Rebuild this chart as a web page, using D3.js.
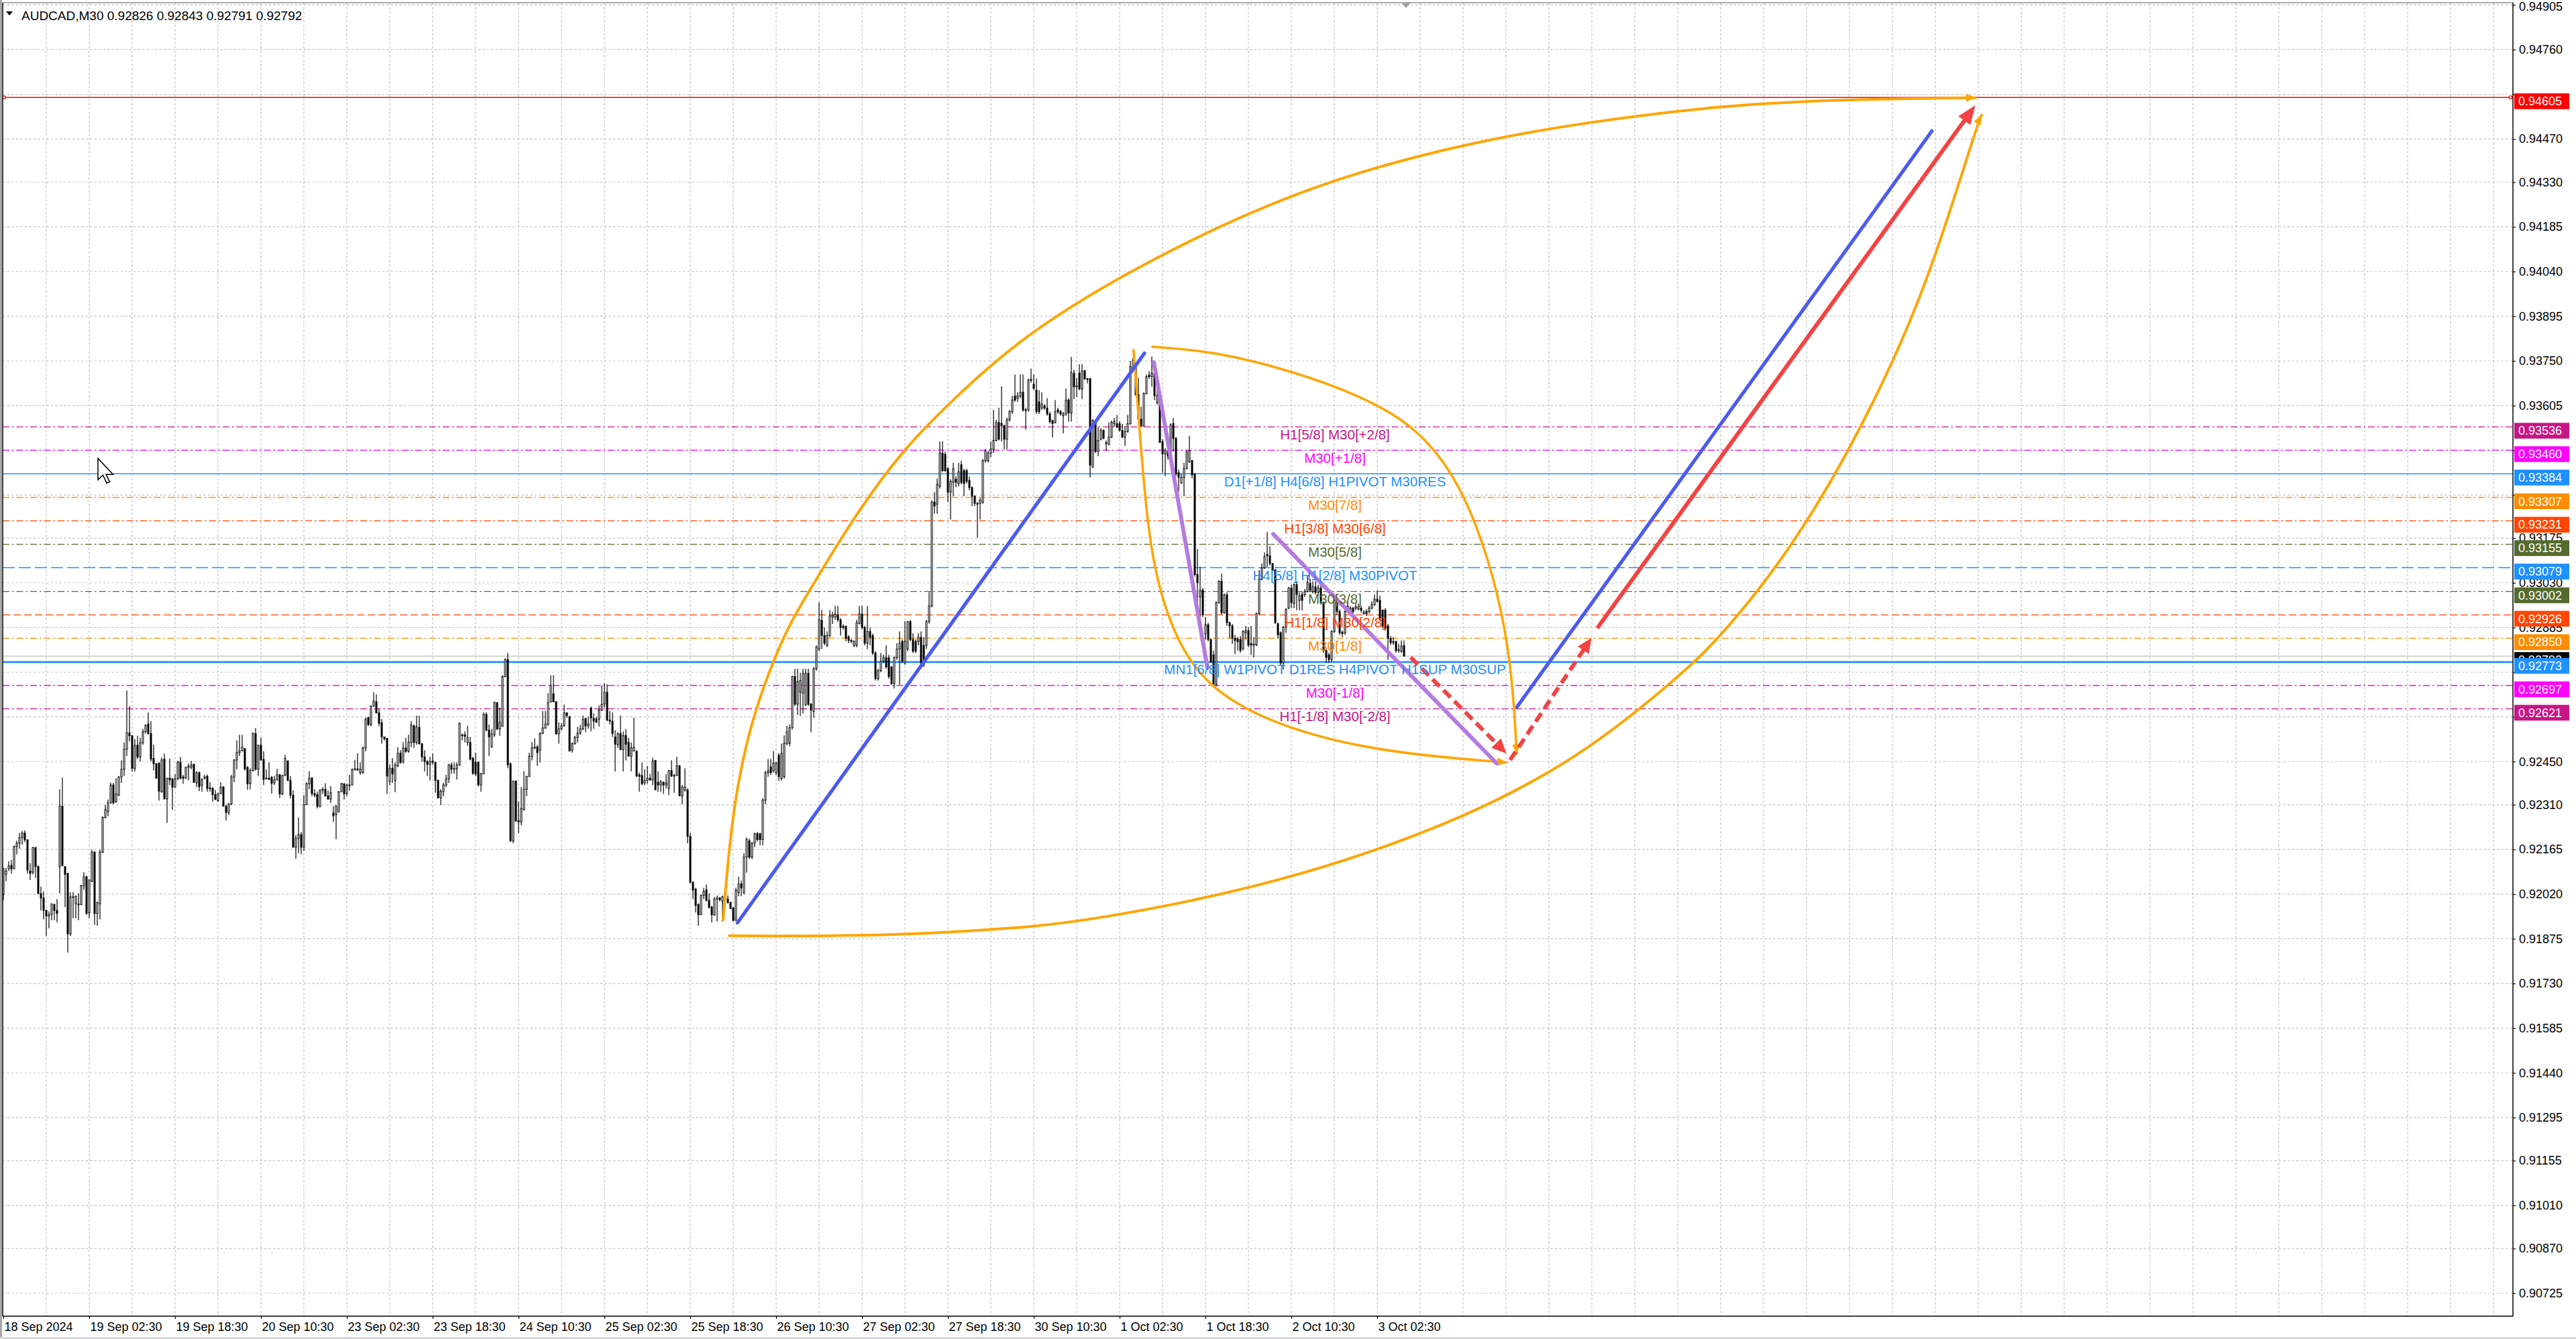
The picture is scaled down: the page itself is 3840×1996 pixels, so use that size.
<!DOCTYPE html>
<html lang="en">
<head>
<meta charset="UTF-8">
<title>AUDCAD,M30</title>
<script src="https://cdnjs.cloudflare.com/ajax/libs/d3/7.8.5/d3.min.js"></script>
<style>
body { margin: 0; background: #fff; }
svg { display: block; }
text { font-family: "Liberation Sans", Arial, sans-serif; }
</style>
</head>
<body>
<svg id="chart"></svg>
<script>
// prices are stored as points above 0.9 (1 point = 0.00001)
var BASE = 0.9, PT = 0.00001;

var opens = [
2018,2084,2102,2113,2102,2174,2185,2203,2218,2196,
2095,2091,2171,2109,2022,2007,1967,1949,1954,1986,
1967,2109,2305,2109,2087,1891,2011,1989,1988,1986,
2047,2076,1959,2062,2156,1957,1989,2156,2269,2287,
2316,2374,2320,2341,2400,2425,2490,2543,2534,2428,
2503,2465,2511,2547,2572,2541,2460,2443,2445,2352,
2458,2329,2396,2394,2367,2394,2448,2400,2396,2431,
2432,2441,2381,2414,2373,2396,2402,2365,2363,2343,
2323,2346,2368,2305,2285,2312,2400,2455,2479,2485,
2492,2431,2379,2421,2541,2425,2503,2457,2394,2396,
2399,2381,2390,2407,2345,2405,2452,2389,2341,2172,
2200,2213,2172,2310,2378,2396,2346,2343,2305,2357,
2360,2339,2328,2283,2278,2287,2352,2378,2346,2374,
2374,2423,2426,2414,2414,2494,2593,2570,2630,2644,
2608,2576,2530,2525,2385,2428,2389,2436,2477,2450,
2494,2484,2512,2566,2512,2561,2508,2465,2450,2441,
2452,2447,2389,2332,2352,2374,2394,2439,2425,2427,
2439,2537,2537,2512,2512,2461,2448,2448,2374,2410,
2603,2552,2499,2537,2641,2556,2564,2726,2781,2443,
2193,2387,2258,2254,2294,2360,2402,2467,2494,2497,
2487,2541,2559,2570,2644,2670,2644,2540,2556,2566,
2608,2595,2487,2508,2528,2542,2556,2590,2566,2624,
2590,2588,2588,2617,2637,2675,2585,2581,2530,2505,
2541,2489,2535,2512,2467,2484,2483,2407,2405,2381,
2389,2396,2390,2454,2383,2374,2383,2374,2363,2421,
2403,2405,2436,2338,2358,2358,2207,2058,2036,1986,
1953,2016,2034,2000,1978,1952,2004,2007,1997,2011,
2004,1993,1975,1935,2025,2053,2025,2140,2193,2140,
2185,2216,2216,2197,2325,2414,2433,2420,2414,2471,
2395,2401,2509,2509,2560,2726,2636,2675,2672,2634,
2736,2636,2613,2751,2815,2908,2859,2827,2859,2919,
2919,2927,2910,2889,2889,2855,2843,2827,2827,2898,
2929,2885,2834,2872,2859,2802,2719,2745,2776,2787,
2787,2757,2703,2787,2815,2840,2770,2815,2904,2846,
2840,2840,2853,2827,2827,2904,2955,3292,3285,3343,
3451,3447,3400,3324,3356,3366,3352,3413,3394,3394,
3362,3339,3311,3288,3288,3292,3426,3426,3451,3464,
3492,3550,3547,3540,3496,3559,3585,3636,3629,3636,
3648,3589,3591,3687,3674,3655,3617,3597,3604,3597,
3578,3556,3550,3591,3585,3572,3578,3623,3581,3710,
3666,3710,3659,3718,3692,3692,3405,3550,3456,3496,
3525,3481,3478,3503,3546,3546,3546,3525,3503,3521,
3546,3729,3729,3641,3561,3539,3644,3704,3699,3710,
3615,3641,3488,3448,3459,3456,3547,3499,3387,3354,
3372,3401,3423,3427,3383,3057,2984,3006,2864,2894,
2846,2796,2701,2966,3035,2933,2991,2901,2890,2850,
2848,2846,2817,2868,2875,2833,2828,2828,2930,3042,
3078,3122,3118,3092,3071,2897,2868,2770,2886,2948,
3013,2963,3024,2973,2992,2992,3002,3028,3002,3017,
2999,3013,2966,2810,2796,2781,2872,2966,2937,2870,
2868,2941,2937,2948,2948,2945,2948,2930,2937,2937,
2948,2959,2977,2973,2941,2941,2890,2850,2836,2839,
2810,2807,2826
];

var highs = [
2105,2105,2127,2131,2178,2193,2218,2225,2227,2198,
2120,2173,2173,2113,2044,2029,1969,1964,1990,1989,
2004,2360,2398,2111,2089,2026,2026,2015,2022,2050,
2091,2080,2068,2164,2160,1995,2164,2272,2309,2327,
2381,2381,2396,2403,2454,2512,2680,2630,2536,2523,
2534,2527,2556,2570,2609,2581,2505,2445,2447,2463,
2476,2396,2460,2396,2410,2452,2465,2407,2434,2444,
2452,2443,2419,2418,2396,2407,2408,2383,2367,2358,
2349,2383,2370,2309,2316,2407,2458,2519,2537,2537,
2494,2436,2428,2545,2559,2505,2527,2483,2425,2447,
2403,2403,2426,2410,2407,2471,2454,2403,2356,2211,
2269,2222,2341,2383,2419,2400,2360,2352,2360,2367,
2380,2356,2370,2305,2309,2354,2381,2380,2378,2407,
2428,2456,2477,2447,2499,2592,2595,2632,2675,2668,
2621,2588,2530,2527,2441,2461,2447,2497,2487,2513,
2527,2537,2581,2570,2599,2599,2510,2487,2455,2465,
2476,2449,2392,2360,2381,2407,2443,2447,2447,2447,
2577,2541,2548,2566,2530,2465,2479,2450,2414,2610,
2610,2570,2556,2644,2643,2625,2730,2784,2802,2447,
2389,2389,2320,2367,2419,2403,2479,2513,2525,2504,
2545,2614,2614,2672,2730,2730,2646,2577,2574,2635,
2610,2599,2512,2534,2563,2569,2599,2592,2595,2628,
2606,2595,2632,2697,2704,2701,2614,2610,2552,2545,
2599,2548,2556,2527,2512,2592,2487,2414,2447,2425,
2436,2410,2463,2455,2418,2390,2385,2409,2423,2454,
2410,2465,2439,2374,2428,2363,2218,2062,2040,1990,
2018,2040,2051,2022,1982,2011,2015,2011,2015,2015,
2015,1995,1978,2040,2076,2064,2153,2204,2200,2190,
2219,2222,2219,2331,2420,2458,2458,2484,2450,2477,
2509,2535,2566,2570,2728,2751,2751,2738,2751,2751,
2751,2640,2757,2827,2967,2942,2885,2872,2942,2936,
2955,2955,2915,2895,2891,2860,2848,2843,2910,2955,
2955,2891,2955,2885,2865,2808,2751,2802,2796,2827,
2796,2760,2790,2834,2872,2846,2906,2906,2910,2866,
2846,2866,2872,2853,2910,3000,3298,3324,3368,3489,
3489,3455,3405,3366,3419,3375,3419,3426,3400,3400,
3375,3343,3314,3292,3305,3432,3465,3458,3489,3591,
3559,3598,3667,3543,3566,3591,3636,3706,3648,3706,
3706,3598,3693,3725,3706,3693,3655,3648,3610,3629,
3585,3559,3623,3598,3591,3585,3661,3629,3763,3721,
3695,3739,3739,3721,3695,3695,3561,3557,3536,3532,
3528,3492,3550,3557,3565,3575,3554,3546,3539,3575,
3750,3760,3736,3695,3601,3648,3706,3717,3764,3742,
3659,3644,3496,3467,3470,3547,3565,3503,3398,3383,
3419,3459,3507,3427,3387,3140,3082,3013,2919,2900,
2850,2810,2970,3038,3060,2995,2999,2904,2897,2861,
2854,2857,2876,2890,2886,2890,2854,2933,3071,3093,
3129,3195,3148,3095,3075,2901,2872,2890,2948,3017,
3024,3028,3035,2999,3002,3010,3053,3042,3035,3035,
3024,3028,2970,2818,2803,2876,2977,2984,2944,2875,
2941,2970,2955,2952,2966,2963,2955,2941,2944,2955,
2970,2992,3006,2988,2944,2948,2897,2857,2854,2843,
2832,2843,2843
];

var lows = [
2000,2062,2095,2087,2100,2149,2167,2180,2189,2087,
2066,2084,2073,2020,1967,1938,1884,1909,1935,1935,
1928,2022,2110,1978,1830,1884,1942,1942,1935,1984,
2033,1953,1942,2058,1920,1917,1938,2153,2265,2272,
2314,2312,2316,2338,2381,2403,2468,2516,2418,2418,
2458,2450,2505,2541,2537,2450,2421,2396,2323,2349,
2327,2251,2374,2294,2367,2389,2392,2378,2394,2389,
2425,2381,2367,2354,2352,2392,2352,2352,2320,2325,
2320,2345,2305,2259,2276,2309,2383,2425,2468,2483,
2421,2358,2360,2418,2421,2403,2454,2374,2392,2390,
2346,2374,2389,2332,2341,2403,2387,2330,2171,2135,
2153,2149,2160,2309,2360,2338,2334,2298,2301,2345,
2338,2327,2316,2254,2198,2285,2352,2327,2338,2356,
2374,2421,2419,2407,2410,2483,2566,2564,2628,2606,
2564,2508,2519,2345,2374,2381,2351,2432,2443,2443,
2479,2479,2497,2494,2505,2505,2450,2418,2403,2389,
2439,2349,2330,2309,2338,2367,2381,2410,2410,2392,
2436,2519,2512,2501,2454,2407,2403,2370,2352,2410,
2548,2468,2494,2530,2552,2534,2564,2723,2428,2189,
2185,2254,2218,2243,2291,2338,2400,2454,2490,2436,
2447,2539,2556,2567,2641,2643,2537,2508,2552,2563,
2592,2483,2479,2505,2512,2537,2552,2545,2556,2548,
2556,2577,2563,2614,2625,2581,2570,2530,2418,2494,
2487,2418,2454,2465,2418,2484,2400,2352,2374,2374,
2378,2389,2374,2357,2352,2352,2345,2363,2341,2400,
2349,2403,2338,2312,2352,2185,2055,2004,1960,1917,
1952,2004,1996,1975,1928,1950,1931,1996,1931,1996,
1989,1971,1931,1933,2013,2013,2019,2089,2134,2134,
2172,2190,2178,2178,2312,2401,2407,2414,2407,2388,
2388,2395,2503,2500,2554,2630,2601,2598,2605,2630,
2630,2545,2592,2745,2808,2815,2827,2821,2853,2897,
2910,2904,2859,2878,2840,2834,2834,2821,2821,2895,
2878,2827,2815,2827,2796,2713,2713,2740,2770,2751,
2719,2700,2687,2780,2700,2770,2764,2808,2840,2802,
2802,2827,2764,2757,2815,2898,2950,3254,3254,3336,
3390,3390,3292,3235,3311,3340,3343,3349,3311,3352,
3330,3279,3279,3177,3235,3286,3420,3420,3438,3451,
3489,3492,3489,3464,3464,3553,3578,3617,3617,3629,
3585,3527,3585,3680,3655,3578,3578,3591,3591,3572,
3547,3502,3547,3578,3572,3515,3572,3553,3553,3626,
3633,3655,3626,3688,3677,3372,3405,3452,3441,3492,
3496,3459,3478,3499,3536,3532,3521,3499,3474,3517,
3543,3725,3636,3557,3536,3536,3641,3691,3666,3623,
3608,3485,3387,3376,3430,3452,3456,3376,3325,3351,
3311,3398,3419,3369,3050,2926,2919,2919,2846,2840,
2770,2690,2695,2962,2926,2930,2890,2850,2832,2799,
2810,2803,2810,2846,2821,2796,2788,2825,2926,3038,
3075,3082,3086,3068,2897,2850,2763,2748,2868,2944,
2948,2948,2941,2941,2941,2984,2999,2999,2995,2992,
2988,2959,2803,2770,2770,2774,2868,2926,2861,2854,
2861,2937,2934,2930,2941,2941,2934,2926,2923,2930,
2944,2955,2966,2908,2883,2875,2781,2828,2828,2803,
2803,2803,2791
];

var closes = [
2102,2095,2111,2102,2174,2185,2203,2218,2196,2098,
2087,2171,2109,2022,2007,1967,1949,1954,1988,1967,
1957,2305,2113,2084,1891,2011,2009,2013,1985,2047,
2076,1957,2066,2156,1957,1993,2156,2269,2294,2316,
2374,2316,2345,2400,2425,2490,2543,2534,2428,2503,
2465,2511,2547,2568,2541,2458,2443,2396,2354,2455,
2329,2396,2391,2367,2394,2448,2396,2396,2431,2435,
2439,2383,2414,2368,2391,2400,2363,2362,2343,2327,
2346,2367,2305,2285,2312,2400,2455,2479,2485,2497,
2426,2378,2421,2541,2425,2503,2455,2392,2396,2392,
2379,2390,2407,2345,2405,2460,2389,2341,2172,2200,
2213,2172,2310,2378,2396,2346,2341,2305,2357,2360,
2338,2328,2349,2274,2305,2352,2378,2345,2374,2374,
2423,2427,2423,2425,2494,2588,2570,2630,2646,2608,
2574,2530,2523,2403,2428,2410,2439,2477,2447,2494,
2483,2513,2568,2512,2563,2508,2465,2450,2441,2450,
2448,2389,2332,2354,2374,2394,2439,2425,2427,2439,
2574,2534,2532,2528,2458,2412,2410,2374,2410,2603,
2552,2530,2540,2643,2556,2577,2726,2781,2439,2193,
2385,2258,2254,2298,2360,2402,2467,2494,2497,2479,
2541,2559,2572,2641,2697,2644,2540,2556,2566,2608,
2599,2484,2508,2528,2542,2556,2587,2566,2572,2592,
2581,2577,2617,2635,2675,2585,2581,2541,2506,2540,
2489,2534,2506,2468,2495,2496,2403,2402,2378,2389,
2396,2390,2452,2358,2374,2385,2374,2381,2421,2403,
2405,2436,2339,2367,2367,2207,2058,2033,1983,1953,
2016,2029,2000,1976,1953,2004,2007,2002,2011,2004,
1993,1973,1935,2033,2053,2040,2140,2197,2140,2185,
2216,2197,2197,2325,2414,2420,2414,2445,2445,2401,
2477,2509,2547,2560,2726,2636,2710,2713,2736,2736,
2636,2617,2751,2821,2910,2859,2834,2859,2923,2925,
2929,2910,2885,2885,2850,2843,2840,2840,2900,2929,
2885,2834,2872,2853,2802,2719,2745,2776,2787,2757,
2726,2703,2787,2815,2834,2776,2840,2904,2846,2808,
2808,2853,2770,2764,2904,2955,3292,3279,3349,3451,
3394,3394,3324,3359,3400,3356,3390,3356,3352,3359,
3339,3311,3288,3285,3298,3426,3458,3451,3464,3492,
3550,3496,3540,3496,3559,3585,3623,3623,3636,3648,
3591,3591,3687,3690,3661,3585,3585,3610,3597,3578,
3553,3547,3585,3585,3578,3578,3623,3581,3712,3666,
3670,3659,3717,3692,3690,3412,3557,3456,3492,3525,
3499,3485,3503,3551,3554,3536,3525,3503,3521,3546,
3731,3751,3641,3561,3539,3644,3699,3699,3710,3637,
3637,3485,3448,3459,3441,3543,3498,3383,3372,3372,
3401,3456,3459,3380,3057,3031,3006,2926,2894,2846,
2774,2701,2966,3035,2933,2991,2901,2890,2850,2843,
2839,2810,2872,2875,2828,2828,2831,2930,3042,3078,
3115,3118,3093,3071,2901,2861,2770,2886,2944,3013,
2966,3024,2992,2988,2973,3002,3031,3006,3017,2999,
3013,2966,2810,2788,2781,2872,2973,2937,2868,2865,
2937,2955,2948,2937,2952,2952,2941,2935,2930,2948,
2959,2977,2970,2912,2890,2883,2850,2836,2839,2810,
2814,2825,2792
];

// time axis: bar index of each label and its text
var labelBars = [0,32,64,96,128,160,192,224,256,288,320,352,384,416,448,480,512];
var timeLabels = ["18 Sep 2024","19 Sep 02:30","19 Sep 18:30","20 Sep 10:30","23 Sep 02:30",
  "23 Sep 18:30","24 Sep 10:30","25 Sep 02:30","25 Sep 18:30","26 Sep 10:30","27 Sep 02:30",
  "27 Sep 18:30","30 Sep 10:30","1 Oct 02:30","1 Oct 18:30","2 Oct 10:30","3 Oct 02:30"];

var priceTicks = [0.94905,0.94760,0.94615,0.94470,0.94330,0.94185,0.94040,0.93895,0.93750,0.93605,
  0.93460,0.93315,0.93175,0.93030,0.92885,0.92740,0.92595,0.92450,0.92310,0.92165,0.92020,
  0.91875,0.91730,0.91585,0.91440,0.91295,0.91155,0.91010,0.90870,0.90725];

// murrey / pivot levels
var levelPrices = [0.93536,0.93460,0.93384,0.93307,0.93231,0.93155,0.93079,0.93002,0.92926,0.92850,0.92773,0.92697,0.92621];
var levelNames = ["H1[5/8] M30[+2/8]","M30[+1/8]","D1[+1/8] H4[6/8] H1PIVOT M30RES","M30[7/8]",
  "H1[3/8] M30[6/8]","M30[5/8]","H4[5/8] H1[2/8] M30PIVOT","M30[3/8]","H1[1/8] M30[2/8]","M30[1/8]",
  "MN1[6/8] W1PIVOT D1RES H4PIVOT H1SUP M30SUP","M30[-1/8]","H1[-1/8] M30[-2/8]"];
var targetPrice = 0.94605;
var bidPrice = 0.92792;

// drawn objects, points as [bar, price]
var outerUpperArc = [[268.25,0.91937],[270.5,0.92178],[273.5,0.92370],[277.25,0.92522],[281.5,0.92649],
  [287,0.92777],[293.25,0.92903],[304,0.93056],[317.25,0.93247],[335.25,0.93463],[353,0.93617],
  [379.75,0.93833],[427.25,0.94083],[488.5,0.94329],[548.75,0.94464],[592,0.94527],[640,0.94579],
  [688,0.94599],[734.9,0.94604]];
var outerLowerArc = [[270.5,0.91885],[304,0.91883],[344,0.91891],[379.75,0.91911],[403.75,0.91932],
  [476.25,0.92052],[548.75,0.92276],[592,0.92492],[624,0.92723],[640,0.92851],[672,0.93201],
  [704,0.93728],[720,0.94081],[736,0.94527],[737.25,0.94547]];
var innerLeftArc = [[421.2,0.93785],[423,0.93574],[426.1,0.93228],[430.3,0.93012],[438.75,0.92813],
  [450.3,0.92684],[472.4,0.92572],[511.4,0.92481],[560.25,0.92447]];
var innerRightArc = [[428.2,0.93796],[451.4,0.93781],[480.85,0.93716],[504,0.93643],[525.1,0.93548],
  [540.85,0.93384],[551.4,0.93168],[558.75,0.92934],[562.5,0.92710],[564,0.92476]];
var blueLines = [[[273.6,0.91927],[425.25,0.93775]], [[564.05,0.92627],[718.7,0.94496]]];
var purpleLines = [[[428.75,0.93746],[448.75,0.92753]], [[473.25,0.93188],[556.5,0.92444]]];
var redDashed = [[[524.5,0.92788],[560.2,0.92476]], [[561.5,0.92455],[591.85,0.92851]]];
var redArrow = [[594,0.92883],[734.9,0.94579]];
var cursorAt = [35.25,0.93434];
var shiftBar = 522.75;

// ---------------------------------------------------------------
var W = 3840, H = 1996;
var plot = {left: 4, right: 3746, top: 4, bottom: 1962};
var LEVEL_TEXT_BAR = 496.25;

var x = d3.scaleLinear().domain([0, 935]).range([5, 3745]);
var y = d3.scaleLinear().domain([0.90725, 0.94905]).range([1927.75, 7.35]);

var DASHDOT = "10,4,2.5,4", DASH = "11,5", LONGDASH = "18,6";
var levelStyle = [
  {color: "#C71585", dash: DASHDOT, width: 1.3},
  {color: "#FF00FF", dash: DASHDOT, width: 1.3},
  {color: "#1E90FF", dash: null, width: 1.5},
  {color: "#FF8C00", dash: DASHDOT, width: 1.3},
  {color: "#FF4500", dash: DASHDOT, width: 1.3},
  {color: "#556B2F", dash: DASHDOT, width: 1.3},
  {color: "#1E90FF", dash: LONGDASH, width: 1.3},
  {color: "#556B2F", dash: DASHDOT, width: 1.3},
  {color: "#FF4500", dash: DASH, width: 1.3},
  {color: "#FF8C00", dash: DASHDOT, width: 1.3},
  {color: "#1E90FF", dash: null, width: 2.6},
  {color: "#FF00FF", dash: DASHDOT, width: 1.3},
  {color: "#C71585", dash: DASHDOT, width: 1.3}
];
var ORANGE = "#FFA500", BLUE = "#4A5BF0", PURPLE = "#B57BE0", RED = "#F54242";

var svg = d3.select("#chart").attr("width", W).attr("height", H).attr("viewBox", "0 0 " + W + " " + H);
svg.append("rect").attr("width", W).attr("height", H).attr("fill", "#fff");

var defs = svg.append("defs");
defs.append("clipPath").attr("id", "plotClip").append("rect")
  .attr("x", plot.left).attr("y", plot.top)
  .attr("width", plot.right - plot.left).attr("height", plot.bottom - plot.top);
defs.append("marker").attr("id", "arrOrange")
  .attr("markerUnits", "userSpaceOnUse").attr("viewBox", "0 0 15 12")
  .attr("markerWidth", 15).attr("markerHeight", 12).attr("refX", 14).attr("refY", 6)
  .attr("orient", "auto")
  .append("path").attr("d", "M0,0L15,6L0,12Z").attr("fill", ORANGE);

// grid
var grid = svg.append("g").attr("clip-path", "url(#plotClip)")
  .attr("stroke", "#c4c4c4").attr("stroke-width", 1.2).attr("stroke-dasharray", "3.5,3");
grid.selectAll("line.gh").data(priceTicks).join("line").attr("class", "gh")
  .attr("x1", plot.left).attr("x2", plot.right)
  .attr("y1", function(d){ return y(d); }).attr("y2", function(d){ return y(d); });
grid.selectAll("line.gv").data(d3.range(16, 935, 16)).join("line").attr("class", "gv")
  .attr("y1", plot.top).attr("y2", plot.bottom)
  .attr("x1", function(d){ return x(d); }).attr("x2", function(d){ return x(d); });

// level lines
var lv = svg.append("g").attr("clip-path", "url(#plotClip)");
lv.selectAll("line.lvl").data(levelPrices).join("line").attr("class", "lvl")
  .attr("x1", plot.left).attr("x2", plot.right)
  .attr("y1", function(d){ return y(d); }).attr("y2", function(d){ return y(d); })
  .attr("stroke", function(d, i){ return levelStyle[i].color; })
  .attr("stroke-width", function(d, i){ return levelStyle[i].width; })
  .attr("stroke-dasharray", function(d, i){ return levelStyle[i].dash; });
lv.append("line").attr("x1", plot.left).attr("x2", plot.right)
  .attr("y1", y(bidPrice)).attr("y2", y(bidPrice))
  .attr("stroke", "#c0c0c0").attr("stroke-width", 1.2);
lv.append("line").attr("x1", plot.left).attr("x2", plot.right)
  .attr("y1", y(targetPrice)).attr("y2", y(targetPrice))
  .attr("stroke", "#ff0000").attr("stroke-width", 1.4);
[x(0), x(934.1)].forEach(function(px){
  lv.append("rect").attr("x", px - 1).attr("y", y(targetPrice) - 2).attr("width", 4).attr("height", 4)
    .attr("fill", "#fff").attr("stroke", "#ff0000").attr("stroke-width", 1.2);
});

// candles
var bars = opens.map(function(o, i){
  return {i: i, o: BASE + o * PT, h: BASE + highs[i] * PT, l: BASE + lows[i] * PT, c: BASE + closes[i] * PT};
});
var cg = svg.append("g").attr("clip-path", "url(#plotClip)");
cg.selectAll("line.wick").data(bars).join("line").attr("class", "wick")
  .attr("x1", function(d){ return x(d.i); }).attr("x2", function(d){ return x(d.i); })
  .attr("y1", function(d){ return y(d.h); }).attr("y2", function(d){ return y(d.l); })
  .attr("stroke", "#000").attr("stroke-width", 1.2);
cg.selectAll("rect.body").data(bars).join("rect").attr("class", "body")
  .attr("x", function(d){ return x(d.i) - 1; }).attr("width", 2)
  .attr("y", function(d){ return Math.min(y(d.o), y(d.c)); })
  .attr("height", function(d){ return Math.max(0.8, Math.abs(y(d.o) - y(d.c))); })
  .attr("fill", function(d){ return d.c >= d.o ? "#fff" : "#000"; })
  .attr("stroke", "#000").attr("stroke-width", 1);

// drawn objects
var og = svg.append("g").attr("clip-path", "url(#plotClip)");
var curve = d3.line().x(function(d){ return x(d[0]); }).y(function(d){ return y(d[1]); })
  .curve(d3.curveBasis);
var straight = d3.line().x(function(d){ return x(d[0]); }).y(function(d){ return y(d[1]); });

[[outerUpperArc, 4], [outerLowerArc, 4], [innerLeftArc, 3.6], [innerRightArc, 3.6]].forEach(function(a){
  og.append("path").attr("d", curve(a[0])).attr("fill", "none")
    .attr("stroke", ORANGE).attr("stroke-width", a[1]).attr("stroke-linecap", "round")
    .attr("marker-end", "url(#arrOrange)");
});
blueLines.forEach(function(l){
  og.append("path").attr("d", straight(l)).attr("stroke", BLUE).attr("stroke-width", 5.2)
    .attr("stroke-linecap", "round");
});
purpleLines.forEach(function(l){
  og.append("path").attr("d", straight(l)).attr("stroke", PURPLE).attr("stroke-width", 6)
    .attr("stroke-linecap", "round");
});

function arrow(pts, dash, headLen, headHalf){
  var x1 = x(pts[0][0]), y1 = y(pts[0][1]), x2 = x(pts[1][0]), y2 = y(pts[1][1]);
  var dx = x2 - x1, dy = y2 - y1, len = Math.sqrt(dx * dx + dy * dy);
  var ux = dx / len, uy = dy / len;
  var bx = x2 - ux * headLen, by = y2 - uy * headLen;
  og.append("line").attr("x1", x1).attr("y1", y1).attr("x2", bx + ux * 2).attr("y2", by + uy * 2)
    .attr("stroke", RED).attr("stroke-width", 6).attr("stroke-dasharray", dash);
  og.append("path").attr("fill", RED)
    .attr("d", "M" + x2 + "," + y2 + "L" + (bx - uy * headHalf) + "," + (by + ux * headHalf) +
      "L" + (bx + uy * headHalf) + "," + (by - ux * headHalf) + "Z");
}
redDashed.forEach(function(l){ arrow(l, "15,8", 22, 10); });
arrow(redArrow, null, 28, 11);

// level captions
var tg = svg.append("g");
tg.selectAll("text").data(levelPrices).join("text")
  .attr("x", x(LEVEL_TEXT_BAR)).attr("y", function(d){ return y(d) + 18.5; })
  .attr("text-anchor", "middle").attr("font-size", 20.5)
  .attr("fill", function(d, i){ return levelStyle[i].color; })
  .text(function(d, i){ return levelNames[i]; });

// frame
svg.append("rect").attr("x", 0).attr("y", 0).attr("width", 3).attr("height", H).attr("fill", "#a8a8a8");
svg.append("rect").attr("x", 0).attr("y", H - 3).attr("width", W).attr("height", 3).attr("fill", "#d8d8d8");
svg.append("line").attr("x1", plot.left).attr("x2", plot.right).attr("y1", plot.top).attr("y2", plot.top)
  .attr("stroke", "#909090").attr("stroke-width", 1.5);
svg.append("line").attr("x1", plot.left).attr("x2", plot.left).attr("y1", plot.top).attr("y2", plot.bottom)
  .attr("stroke", "#000").attr("stroke-width", 1.5);
svg.append("line").attr("x1", plot.right).attr("x2", plot.right).attr("y1", plot.top).attr("y2", plot.bottom)
  .attr("stroke", "#000").attr("stroke-width", 1.5);
svg.append("line").attr("x1", plot.left).attr("x2", plot.right).attr("y1", plot.bottom).attr("y2", plot.bottom)
  .attr("stroke", "#000").attr("stroke-width", 1.5);

// coloured price tags (built first so the axis can skip labels they hide)
var tags = levelPrices.map(function(p, i){ return {p: p, color: levelStyle[i].color}; });
tags.push({p: targetPrice, color: "#FF0000"});
tags.push({p: bidPrice, color: "#000000"});
tags.sort(function(a, b){ return b.p - a.p; });
function hiddenByTag(v){
  var ty = y(v);
  return tags.some(function(t){ return ty >= y(t.p) - 6 && ty <= y(t.p) + 17.5; });
}

// price axis
var yAxis = svg.append("g").attr("transform", "translate(" + plot.right + ",0)")
  .call(d3.axisRight(y).tickValues(priceTicks).tickSize(4).tickPadding(5)
    .tickFormat(function(d){ return hiddenByTag(d) ? "" : d.toFixed(5); }));
yAxis.select(".domain").remove();
yAxis.selectAll("text").attr("font-size", 18).attr("font-family", "Liberation Sans, Arial, sans-serif").attr("fill", "#000")
  .attr("y", function(d){ return Math.max(0, 10 - y(d)); });
yAxis.selectAll("line").attr("stroke", "#000").attr("stroke-width", 1.2);

var tagG = svg.append("g");
tags.forEach(function(t){
  tagG.append("rect").attr("x", plot.right + 2).attr("y", y(t.p) - 6).attr("width", 82).attr("height", 23.5)
    .attr("fill", t.color);
  tagG.append("text").attr("x", plot.right + 8).attr("y", y(t.p) + 12).attr("font-size", 18)
    .attr("fill", "#fff").text(t.p.toFixed(5));
});

// time axis
var xAxis = svg.append("g").attr("transform", "translate(0," + plot.bottom + ")")
  .call(d3.axisBottom(x).tickValues(labelBars).tickSize(4).tickPadding(5)
    .tickFormat(function(d, i){ return timeLabels[i]; }));
xAxis.select(".domain").remove();
xAxis.selectAll("text").attr("font-size", 18).attr("font-family", "Liberation Sans, Arial, sans-serif")
  .attr("fill", "#000").attr("text-anchor", "start").attr("x", 1);
xAxis.selectAll("line").attr("stroke", "#000").attr("stroke-width", 1.2);

// title
svg.append("path").attr("d", "M9,17L19,17L14,23Z").attr("fill", "#000");
svg.append("text").attr("x", 32).attr("y", 30).attr("font-size", 19).attr("fill", "#000")
  .text("AUDCAD,M30  0.92826 0.92843 0.92791 0.92792");

// chart shift marker
svg.append("path").attr("transform", "translate(" + x(shiftBar) + "," + plot.top + ")")
  .attr("d", "M-7,0L7,0L0,8Z").attr("fill", "#a0a0a0");

// mouse cursor
svg.append("path").attr("transform", "translate(" + x(cursorAt[0]) + "," + y(cursorAt[1]) + ")")
  .attr("d", "M0,0L0,32L7.5,25L13,37L17.5,35L12,24L22.5,24Z")
  .attr("fill", "#fff").attr("stroke", "#000").attr("stroke-width", 1.5).attr("stroke-linejoin", "miter");
</script>
</body>
</html>
